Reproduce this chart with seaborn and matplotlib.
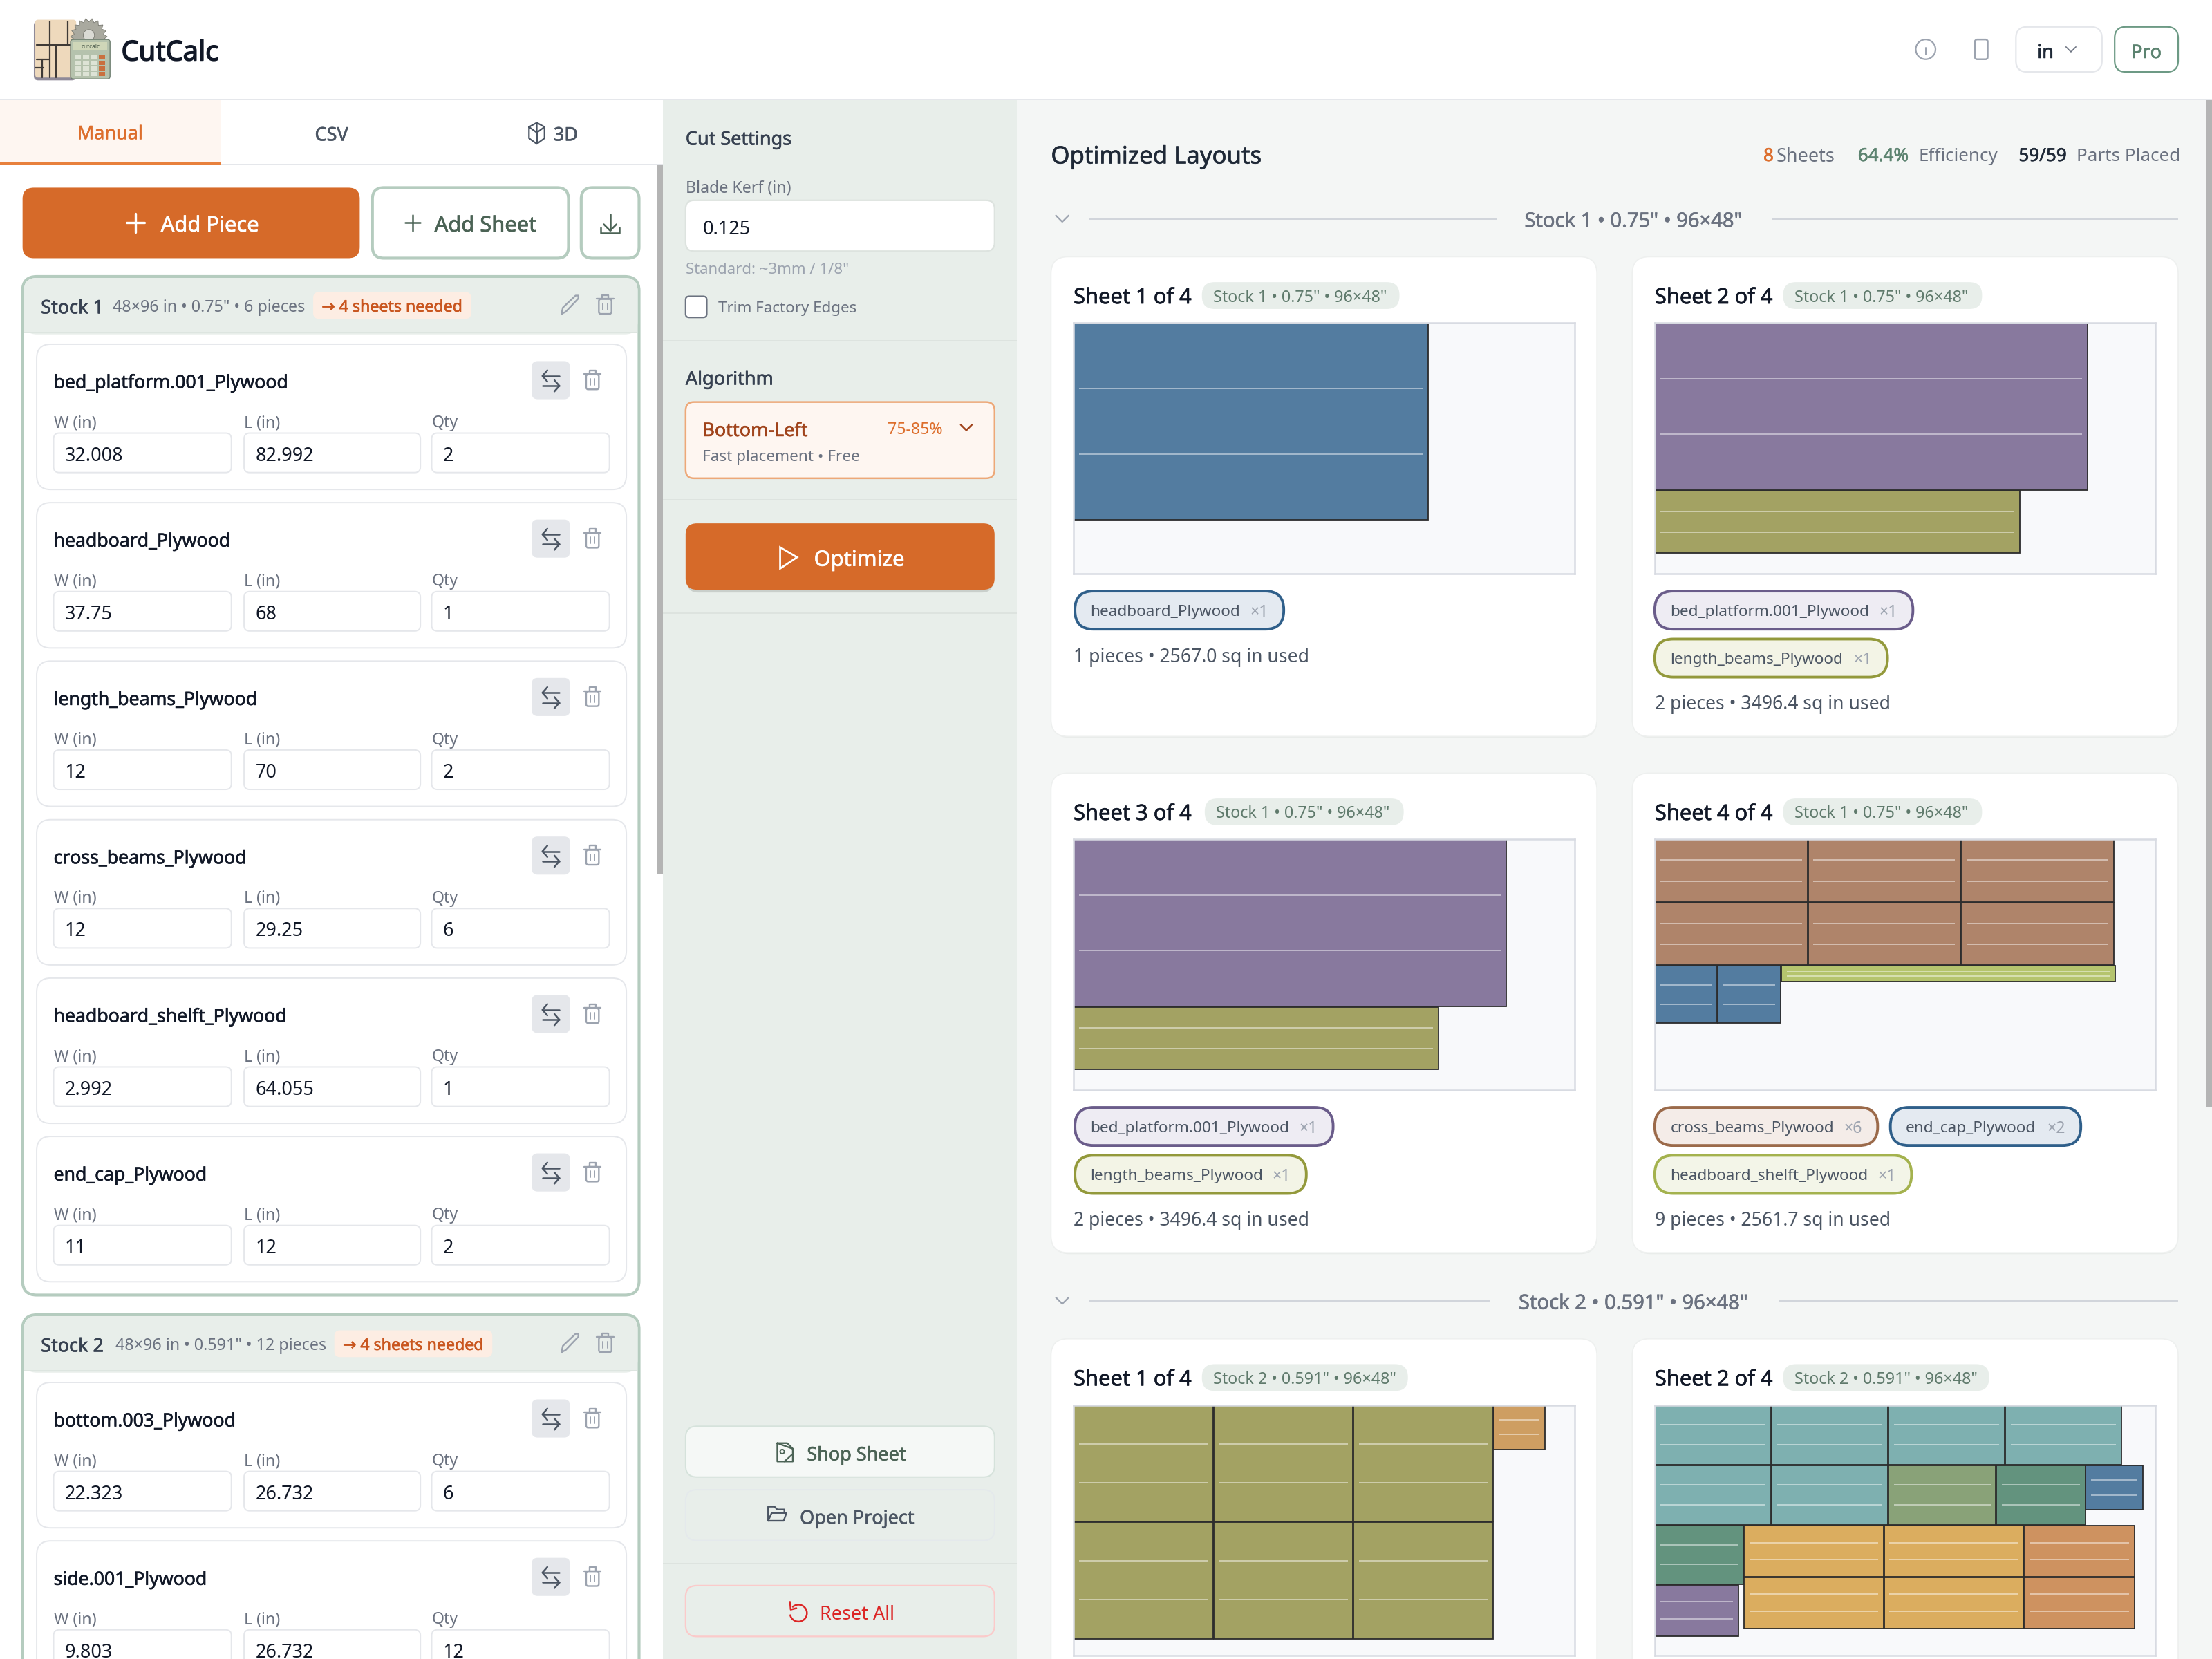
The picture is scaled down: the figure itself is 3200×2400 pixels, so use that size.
import numpy as np
import matplotlib
matplotlib.use('Agg')
import matplotlib.pyplot as plt
import matplotlib.patheffects as pe
from matplotlib.patches import FancyBboxPatch, Rectangle, Circle, Polygon
import seaborn as sns

# left panel values
stock1_names = ['bed_platform.001_Plywood', 'headboard_Plywood', 'length_beams_Plywood',
                'cross_beams_Plywood', 'headboard_shelft_Plywood', 'end_cap_Plywood']
stock1_w = ['32.008', '37.75', '12', '12', '2.992', '11']
stock1_l = ['82.992', '68', '70', '29.25', '64.055', '12']
stock1_qty = ['2', '1', '2', '6', '1', '2']
stock2_names = ['bottom.003_Plywood', 'side.001_Plywood']
stock2_w = ['22.323', '9.803']
stock2_l = ['26.732', '26.732']
stock2_qty = ['6', '12']

# sheet layouts, inches on a 96x48 sheet
s1a_part = ['blue']
s1a_x = [0]
s1a_y = [0]
s1a_w = [68]
s1a_h = [37.75]

s1b_part = ['purple', 'olive']
s1b_x = [0, 0]
s1b_y = [0, 32.133]
s1b_w = [82.992, 70]
s1b_h = [32.008, 12]

s1d_part = ['brown'] * 6 + ['blue', 'blue', 'lime']
s1d_x = [0, 29.375, 58.75, 0, 29.375, 58.75, 0, 12.125, 24.25]
s1d_y = [0, 0, 0, 12.125, 12.125, 12.125, 24.25, 24.25, 24.25]
s1d_w = [29.25] * 6 + [12, 12, 64.055]
s1d_h = [12] * 6 + [11, 11, 2.992]

s2a_part = ['moss'] * 6 + ['orange']
s2a_x = [0, 26.857, 53.714, 0, 26.857, 53.714, 80.571]
s2a_y = [0, 0, 0, 22.448, 22.448, 22.448, 0]
s2a_w = [26.732] * 6 + [9.803]
s2a_h = [22.323] * 6 + [8.5]

s2b_part = ['teal'] * 6 + ['sage', 'pine', 'blue', 'pine', 'purple',
                           'gold', 'gold', 'clay', 'gold', 'gold', 'clay']
s2b_x = [0, 22.4, 44.8, 67.2, 0, 22.4, 44.8, 65.5, 82.6, 0, 0, 17.1, 43.95, 70.8, 17.1, 43.95, 70.8]
s2b_y = [0, 0, 0, 0, 11.55, 11.55, 11.55, 11.55, 11.55, 23.1, 34.45, 23.1, 23.1, 23.1, 33.0, 33.0, 33.0]
s2b_w = [22.3] * 6 + [20.6, 17.1, 10.9, 17.1, 16, 26.73, 26.73, 21.2, 26.73, 26.73, 21.2]
s2b_h = [11.4] * 6 + [11.4, 11.4, 8.5, 11.2, 9.8, 9.8, 9.8, 9.8, 9.8, 9.8, 9.8]

part_keys = ['blue', 'purple', 'olive', 'brown', 'lime', 'moss', 'orange', 'teal', 'sage', 'pine', 'gold', 'clay']
palette = sns.color_palette(['#537CA0', '#88799E', '#A3A263', '#AF846A', '#B5C46E', '#A3A263',
                             '#CE9E62', '#7EB0B0', '#89A278', '#63937E', '#DBAD5F', '#CE9260'])
part_colors = dict(zip(part_keys, palette))

sns.set_theme(style='white')
plt.rcParams['font.family'] = ['Noto Sans', 'DejaVu Sans']

ORANGE = '#D66A29'
SAGE = '#B5CCBF'
PANEL = '#E8EEEA'
GRAY = '#6B7280'
LGRAY = '#9CA3AF'
BORDER = '#E5E7EB'
FOREST = '#4B6355'

fig = plt.figure(figsize=(16, 12), dpi=200, facecolor='white')
ax = fig.add_axes([0, 0, 1, 1])
ax.set_xlim(0, 1568)
ax.set_ylim(1176, 0)
ax.axis('off')


def box(x1, y1, x2, y2, fc='white', ec='none', r=6, lw=0.8, z=1):
    p = FancyBboxPatch((x1 + r, y1 + r), x2 - x1 - 2 * r, y2 - y1 - 2 * r,
                       boxstyle='round,pad=%s,rounding_size=%s' % (r, r),
                       fc=fc, ec=ec, lw=lw, zorder=z)
    ax.add_patch(p)
    return p


def rect(x1, y1, x2, y2, fc, z=1):
    ax.add_patch(Rectangle((x1, y1), x2 - x1, y2 - y1, fc=fc, ec='none', zorder=z))


def txt(x, y, s, px=14, c='#111827', w='normal', ha='left'):
    t = ax.text(x, y - 0.5, s, fontsize=px * 0.735 * 0.945, color=c, ha=ha, va='center_baseline', zorder=6)
    # only the regular Noto Sans gets picked up, so thicken the heavier labels
    stroke = {'normal': 0, 'medium': 0.22, 'bold': 0.55}[w]
    if stroke:
        t.set_path_effects([pe.withStroke(linewidth=stroke, foreground=c)])


def ln(xs, ys, c=GRAY, lw=0.9, z=5):
    ax.plot(xs, ys, color=c, lw=lw, solid_capstyle='round', solid_joinstyle='round', zorder=z)


def chevron(x, y, c=LGRAY, s=4, lw=0.8):
    ln([x - s, x, x + s], [y - s / 2, y + s / 2, y - s / 2], c, lw)


def plus(x, y, c, s=6, lw=1.1):
    ln([x - s, x + s], [y, y], c, lw)
    ln([x, x], [y - s, y + s], c, lw)


def trash(x, y, c=LGRAY):
    ax.add_patch(FancyBboxPatch((x - 4.5, y - 4), 9, 10.5, boxstyle='round,pad=0,rounding_size=1.4',
                                fc='none', ec=c, lw=0.85, zorder=5))
    ln([x - 6, x + 6], [y - 4.2, y - 4.2], c, 0.85)
    ln([x - 2.2, x - 2.2, x + 2.2, x + 2.2], [y - 4.5, y - 7, y - 7, y - 4.5], c, 0.85)
    ln([x - 1.5, x - 1.5], [y - 1, y + 3.5], c, 0.7)
    ln([x + 1.5, x + 1.5], [y - 1, y + 3.5], c, 0.7)


def pencil(x, y, c=LGRAY):
    ln([x - 6, x - 5, x + 4, x + 6, x + 6, x - 3, x - 6], [y + 6.5, y + 2, y - 6.5, y - 6.5, y - 4.5, y + 5, y + 6.5], c, 0.85)


def swap(x, y, c='#4B5563'):
    ln([x - 6, x + 6], [y - 3, y - 3], c, 0.9)
    ln([x - 2.5, x - 6, x - 2.5], [y - 7, y - 3, y + 1], c, 0.9)
    ln([x - 6, x + 6], [y + 4, y + 4], c, 0.9)
    ln([x + 2.5, x + 6, x + 2.5], [y, y + 4, y + 8], c, 0.9)


def piece_card(y, name, w, l, q):
    box(26, y, 444, y + 103, 'white', BORDER, r=10, lw=0.7, z=2)
    txt(38, y + 26.5, name, 13.8, '#111827', 'medium')
    box(377, y + 12, 404, y + 39, BORDER, r=4, z=3)
    swap(390.5, y + 25.5)
    trash(420, y + 25.5)
    for lx, ix1, ix2, lab, val in [(38, 38, 164, 'W (in)', w), (173, 173, 298, 'L (in)', l), (306, 306, 432, 'Qty', q)]:
        txt(lx, y + 55, lab, 12, GRAY)
        box(ix1, y + 63, ix2, y + 91, 'white', BORDER, r=4, lw=0.7, z=3)
        txt(ix1 + 8, y + 78, val, 14, '#111827')


def stock_card(y1, y2, title, info, info_x, need_x1, need_x2):
    box(16, y1, 453, y2, 'white', SAGE, r=10, lw=1.5, z=1)
    ax.add_patch(FancyBboxPatch((27, y1 + 11), 415, 20, boxstyle='round,pad=10,rounding_size=9',
                                fc=PANEL, ec='none', zorder=1.5))
    rect(17, y1 + 20, 452, y1 + 39, PANEL, 1.5)
    rect(17, y1 + 39, 452, y1 + 40, '#DDE5E0', 1.6)
    txt(29, y1 + 21.5, title, 14, '#374151', 'medium')
    txt(info_x, y1 + 21, info, 12.1, GRAY)
    box(need_x1, y1 + 11, need_x2, y1 + 30, '#FDEDE3', r=4, z=2)
    txt(need_x1 + 6, y1 + 21, '→ 4 sheets needed', 12, '#C9551E', 'medium')
    pencil(404, y1 + 20)
    trash(429, y1 + 20)


# page backgrounds
rect(0, 0, 1568, 71, 'white', 0.5)
rect(0, 70, 1568, 71, BORDER, 0.8)
rect(0, 71, 470, 1176, 'white', 0.5)
rect(470, 71, 721, 1176, PANEL, 0.5)
rect(721, 71, 1568, 1176, '#F4F6F5', 0.5)
rect(1564, 71, 1568, 785, '#B4B4B4', 4)

# logo
box(24, 15, 54, 57, '#8F8A98', r=3, z=1.9)
box(25, 14, 54, 55, '#EED9BC', r=2, lw=0.5, z=2)
for xs, ys in [([35.5, 35.5], [15, 55]), ([26, 35], [32, 32]), ([26, 35], [42, 42]), ([25, 31], [48, 48]),
               ([30, 30], [42, 55]), ([39.5, 39.5], [32, 55]), ([35, 50], [32, 32]), ([48, 48], [15, 32])]:
    ln(xs, ys, '#3F3A36', 0.8, 2.5)
ang = np.linspace(0, 2 * np.pi, 37)
rad = np.where(np.arange(37) % 2 == 0, 13, 10.5)
ax.add_patch(Polygon(np.c_[63 + rad * np.cos(ang), 26 + rad * np.sin(ang)], closed=True,
                     fc='#A9A99F', ec='#77776F', lw=0.3, zorder=2.4))
ax.add_patch(Circle((63, 25), 4, fc='#DADAD4', ec='#77776F', lw=0.3, zorder=2.5))
box(50, 28, 78, 56, '#B5C2AD', '#6E7E70', r=2, lw=0.5, z=3)
rect(52, 30, 76, 36, '#CFD6B8', 4)
ax.text(64, 33, 'cutcalc', fontsize=3, color='#4B5A4B', ha='center', va='center', zorder=6)
for i in range(4):
    for j in range(4):
        col = '#C9703F' if j == 3 else '#DDE3D5'
        rect(53 + j * 5.7, 39 + i * 4, 57.5 + j * 5.7, 42 + i * 4, col, 4)
txt(86, 36, 'CutCalc', 20.6, '#111827', 'bold')

# header right
ax.add_patch(Circle((1365, 35), 7, fc='none', ec=LGRAY, lw=0.8, zorder=5))
ln([1365, 1365], [34, 38.5], LGRAY, 0.7)
ln([1365, 1365], [31.5, 31.6], LGRAY, 0.8)
box(1400, 28, 1409, 42, 'none', LGRAY, r=1.5, lw=0.9, z=5)
box(1429, 19, 1490, 51, 'white', BORDER, r=8, lw=0.8)
txt(1450, 36.5, 'in', 14, '#1F2937', 'medium', 'center')
chevron(1468, 35, GRAY, 3.5, 0.6)
box(1499, 19, 1544, 51, 'white', '#6D9A85', r=8, lw=0.8)
txt(1521.5, 36.5, 'Pro', 14, '#5C8370', 'medium', 'center')

# tabs
rect(0, 71, 157, 115, '#FEF6F1', 1)
rect(0, 115, 157, 117, '#E8803C', 2)
rect(157, 116, 470, 117, BORDER, 2)
rect(466, 117, 470, 620, '#B4B4B4', 4)
txt(78, 94, 'Manual', 14, '#DD6E2C', 'medium', 'center')
txt(235, 95, 'CSV', 14, '#4B5563', 'medium', 'center')
txt(401, 95, '3D', 14, '#4B5563', 'medium', 'center')
ln([380.5, 386, 386, 380.5, 375, 375, 380.5, 380.5, 375], [87, 90, 98, 102, 98, 90, 87, 94, 90], '#4B5563', 0.8)
ln([380.5, 386], [94, 90], '#4B5563', 0.8)
ln([380.5, 380.5], [94, 102], '#4B5563', 0.8)

# action buttons
box(16, 133, 255, 183, ORANGE, r=8)
plus(96, 158, 'white', 6.5, 1.2)
txt(114, 159, 'Add Piece', 16, 'white', 'medium')
box(264, 133, 403, 183, 'white', SAGE, r=8, lw=1.5)
plus(292.5, 158, FOREST, 5.5, 0.9)
txt(308, 159, 'Add Sheet', 16, FOREST, 'medium')
box(412, 133, 453, 183, 'white', SAGE, r=8, lw=1.5)
ln([432.5, 432.5], [152, 163], FOREST, 0.9)
ln([428, 432.5, 437], [159, 163.5, 159], FOREST, 0.9)
ln([426, 426, 439, 439], [161, 165, 165, 161], FOREST, 0.9)

# stock cards and pieces
stock_card(196, 918, 'Stock 1', '48×96 in • 0.75" • 6 pieces', 80, 222, 334)
piece_ys = [244, 356.3, 468.6, 581, 693.3, 805.6]
for i in range(len(stock1_names)):
    piece_card(piece_ys[i], stock1_names[i], stock1_w[i], stock1_l[i], stock1_qty[i])
stock_card(932, 1210, 'Stock 2', '48×96 in • 0.591" • 12 pieces', 82, 237, 349)
for i in range(len(stock2_names)):
    piece_card(980 + i * 112.3, stock2_names[i], stock2_w[i], stock2_l[i], stock2_qty[i])

# cut settings panel
txt(486, 98, 'Cut Settings', 14, '#374151', 'medium')
txt(486, 132.5, 'Blade Kerf (in)', 12, GRAY)
box(486, 142, 705, 178, 'white', '#DDE3DF', r=6, lw=0.8)
txt(498, 161.5, '0.125', 14, '#111827')
txt(486, 190.5, 'Standard: ~3mm / 1/8"', 11.5, LGRAY)
box(486, 210, 501, 225, 'white', GRAY, r=2.5, lw=0.8)
txt(509, 218, 'Trim Factory Edges', 11.6, GRAY)
rect(470, 241, 721, 242, '#DDE3DF', 1)
txt(486, 268, 'Algorithm', 14, '#374151', 'medium')
box(486, 285, 705, 339, '#FEF6F1', '#EDA878', r=6, lw=0.9)
txt(498, 304.5, 'Bottom-Left', 14, '#A0431B', 'medium')
txt(629, 304, '75-85%', 12, '#DD6E2C')
chevron(685, 303, '#A0431B', 4, 0.9)
txt(498, 323.5, 'Fast placement • Free', 11.7, GRAY)
rect(470, 354, 721, 355, '#DDE3DF', 1)
box(487, 374, 704, 420, '#C9CFCB', r=8, z=0.9)
box(486, 371, 705, 418, ORANGE, r=8)
ax.add_patch(Polygon([[553, 388], [565, 395], [553, 403]], closed=True, fc='none', ec='white', lw=1.0, zorder=5))
txt(577, 396, 'Optimize', 16, 'white', 'medium')
rect(470, 434, 721, 435, '#DDE3DF', 1)

box(486, 1011, 705, 1047, '#F5F8F6', '#D5E2DB', r=8, lw=0.7)
ln([551, 551, 558, 562, 562, 551], [1023, 1036, 1036, 1036, 1027, 1023], FOREST, 0.85)
ln([551, 558, 562], [1023, 1023, 1027], FOREST, 0.85)
ax.add_patch(Circle((554.5, 1029), 1.5, fc='none', ec=FOREST, lw=0.7, zorder=5))
ln([556, 561.5], [1036, 1031], FOREST, 0.8)
txt(572, 1030.5, 'Shop Sheet', 14, FOREST, 'medium')
box(486, 1056, 705, 1092, 'none', '#E4E9EC', r=8, lw=0.7)
ln([544.5, 544.5, 549, 551, 556, 556], [1078, 1068, 1068, 1070, 1070, 1072], '#4B5563', 0.85)
ln([544.5, 547, 557.5, 555.5, 544.5], [1078, 1072.5, 1072.5, 1078, 1078], '#4B5563', 0.85)
txt(567, 1075.5, 'Open Project', 14, '#4B5563', 'medium')
rect(470, 1108, 721, 1109, '#DDE3DF', 1)
box(486, 1124, 705, 1160, 'none', '#FBCACA', r=8, lw=0.8)
t = np.linspace(-2.3, 2.9, 30)
ln(566 + 6 * np.cos(t), 1143.5 + 6 * np.sin(t), '#DC2626', 0.9)
ln([560, 560.5, 564.5], [1135.5, 1141, 1140], '#DC2626', 0.9)
txt(581, 1143.5, 'Reset All', 14, '#DC2626')

# results header
txt(745, 110, 'Optimized Layouts', 18, '#1F2937', 'medium')
txt(1250, 110, '8', 13.5, '#DD6E2C', 'medium')
txt(1259, 110, 'Sheets', 14, GRAY)
txt(1317, 110, '64.4%', 13.5, '#5C8370', 'medium')
txt(1360, 110, 'Efficiency', 13.5, GRAY)
txt(1431, 110, '59/59', 13.5, '#1F2937', 'medium')
txt(1472, 110, 'Parts Placed', 13.5, GRAY)

for y, x1, x2, lab in [(155, 1061, 1256, 'Stock 1 • 0.75" • 96×48"'), (922, 1056, 1261, 'Stock 2 • 0.591" • 96×48"')]:
    chevron(753, y, LGRAY, 4.5, 0.8)
    rect(772, y - 0.6, x1, y + 0.6, '#D1D5DB', 1)
    rect(x2, y - 0.6, 1544, y + 0.6, '#D1D5DB', 1)
    txt(1158, y + 1, lab, 15.1, GRAY, 'medium', 'center')


def sheet_axes(x1, y1, part, xs, ys, ws, hs):
    # one sheet, drawn in inches through its own axes
    a = fig.add_axes([x1 / 1568, 1 - (y1 + 177.5) / 1176, 355 / 1568, 177.5 / 1176], zorder=3)
    a.set_facecolor('#F8F9FB')
    a.set_xlim(0, 96)
    a.set_ylim(48, 0)
    a.set_xticks([])
    a.set_yticks([])
    sns.despine(ax=a, left=False, right=False, top=False, bottom=False)
    for sp in a.spines.values():
        sp.set_color('#D8DBE2')
        sp.set_linewidth(0.9)
    a.bar(xs, hs, width=ws, bottom=ys, align='edge', color=[part_colors[p] for p in part],
          edgecolor='#2C2C2C', linewidth=0.65)
    for x, y, w, h in zip(xs, ys, ws, hs):
        a.hlines([y + h / 3, y + 2 * h / 3], x + 1.05, x + w - 1.05, color='white', alpha=0.55, lw=0.6)
    return a


def legend_pill(x1, x2, y, name, qty, ec, fc):
    box(x1, y, x2, y + 27, fc, ec, r=13, lw=1.4, z=2)
    txt(x1 + 11, y + 14, name, 11.7, '#4B5563')
    txt(x2 - 11, y + 14, '×' + qty, 12, LGRAY, ha='right')


def card(x1, y1, title, pill_x2, pill_lab, y2=None):
    y2 = y1 + 340 if y2 is None else y2
    box(x1 + 1, y1 + 2, x1 + 387, y2 + 1, '#E9ECEA', r=12, z=0.9)
    box(x1, y1, x1 + 387, y2, 'white', '#EEF0EF', r=12, lw=0.6)
    txt(x1 + 16, y1 + 28, title, 16, '#111827', 'medium')
    px1 = x1 + 16 + (91 if title[6] in '1' else 93 if x1 == 745 else 91)
    box(px1, y1 + 18, pill_x2, y1 + 37, PANEL, r=9, z=2)
    txt(px1 + 8, y1 + 28, pill_lab, 12.1, '#5F7A6C')


LAB1 = 'Stock 1 • 0.75" • 96×48"'
LAB2 = 'Stock 2 • 0.591" • 96×48"'
BLUE = ('#2F5F8A', '#E4EAF1')
PURP = ('#6A5C8A', '#EEECF3')
OLV = ('#93993B', '#F3F4E6')
BRN = ('#9B6A4A', '#F4ECE8')
LIM = ('#A4B24E', '#F3F5E8')

card(745, 182, 'Sheet 1 of 4', 992, LAB1)
sheet_axes(761, 229, s1a_part, s1a_x, s1a_y, s1a_w, s1a_h)
legend_pill(762, 910, 419, 'headboard_Plywood', '1', *BLUE)
txt(761, 465, '1 pieces • 2567.0 sq in used', 13.8, '#4B5563')

card(1157, 182, 'Sheet 2 of 4', 1405, LAB1)
sheet_axes(1173, 229, s1b_part, s1b_x, s1b_y, s1b_w, s1b_h)
legend_pill(1173, 1356, 419, 'bed_platform.001_Plywood', '1', *PURP)
legend_pill(1173, 1338, 453, 'length_beams_Plywood', '1', *OLV)
txt(1173, 498, '2 pieces • 3496.4 sq in used', 13.8, '#4B5563')

card(745, 548, 'Sheet 3 of 4', 995, LAB1)
sheet_axes(761, 595, s1b_part, s1b_x, s1b_y, s1b_w, s1b_h)
legend_pill(762, 945, 785, 'bed_platform.001_Plywood', '1', *PURP)
legend_pill(762, 926, 819, 'length_beams_Plywood', '1', *OLV)
txt(761, 864, '2 pieces • 3496.4 sq in used', 13.8, '#4B5563')

card(1157, 548, 'Sheet 4 of 4', 1405, LAB1)
sheet_axes(1173, 595, s1d_part, s1d_x, s1d_y, s1d_w, s1d_h)
legend_pill(1173, 1331, 785, 'cross_beams_Plywood', '6', *BRN)
legend_pill(1340, 1475, 785, 'end_cap_Plywood', '2', *BLUE)
legend_pill(1173, 1355, 819, 'headboard_shelft_Plywood', '1', *LIM)
txt(1173, 864, '9 pieces • 2561.7 sq in used', 13.8, '#4B5563')

card(745, 949, 'Sheet 1 of 4', 998, LAB2, 1210)
sheet_axes(761, 996, s2a_part, s2a_x, s2a_y, s2a_w, s2a_h)
card(1157, 949, 'Sheet 2 of 4', 1410, LAB2, 1210)
sheet_axes(1173, 996, s2b_part, s2b_x, s2b_y, s2b_w, s2b_h)

fig.savefig('out.png', dpi=200)
